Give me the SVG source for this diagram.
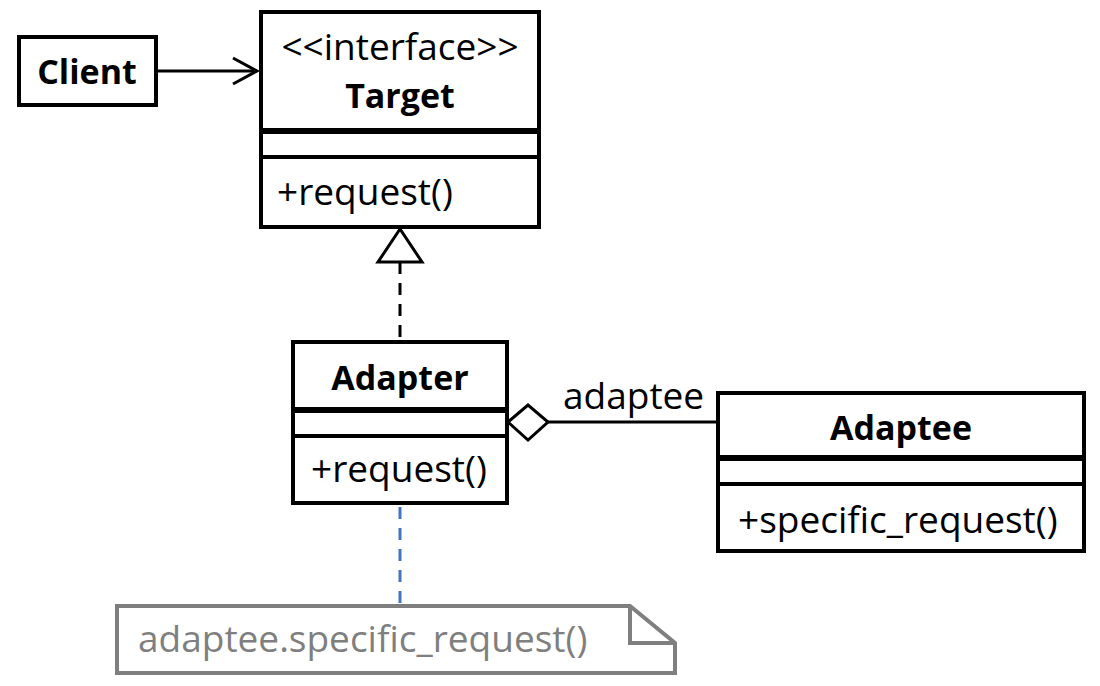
<svg xmlns="http://www.w3.org/2000/svg" width="1100" height="686" viewBox="0 0 1100 686">
<style>
.box{fill:#fff;stroke:#000;stroke-width:4}
.sep{stroke:#000;stroke-width:4}
.sep2{stroke:#000;stroke-width:6}
.b{font-family:"Open Sans","Noto Sans",sans-serif;font-weight:bold;font-size:34px;fill:#000}
.r{font-family:"Open Sans","Noto Sans",sans-serif;font-size:37px;fill:#000}
.n{font-family:"Open Sans","Noto Sans",sans-serif;font-size:37px;fill:#7f7f7f}
.ln{fill:none;stroke:#000;stroke-width:3}
</style>
<rect width="1100" height="686" fill="#fff"/>
<g id="connectors">
  <line class="ln" x1="157" y1="71" x2="257" y2="71"/>
  <polyline class="ln" points="233,58 257,71 233,84"/>
  <line class="ln" x1="400" y1="262" x2="400" y2="340" stroke-dasharray="12,9"/>
  <polygon points="400,229 378,262 422,262" fill="#fff" stroke="#000" stroke-width="3"/>
  <line class="ln" x1="548" y1="422" x2="718" y2="422"/>
  <polygon points="508,422 528,405 548,422 528,440" fill="#fff" stroke="#000" stroke-width="3"/>
  <text class="r" x="563" y="409">adaptee</text>
  <line x1="400" y1="507" x2="400" y2="604" stroke="#4472C4" stroke-width="3" stroke-dasharray="12,9"/>
</g>
<g id="client">
  <rect class="box" x="19" y="37" width="137" height="68"/>
  <text class="b" x="87" y="84" text-anchor="middle">Client</text>
</g>
<g id="target">
  <rect class="box" x="261" y="12" width="278" height="215"/>
  <line class="sep2" x1="261" y1="131" x2="539" y2="131"/>
  <line class="sep" x1="261" y1="157" x2="539" y2="157"/>
  <text class="r" x="400" y="60" text-anchor="middle">&lt;&lt;interface&gt;&gt;</text>
  <text class="b" x="400" y="108" text-anchor="middle">Target</text>
  <text class="r" x="277" y="205">+request()</text>
</g>
<g id="adapter">
  <rect class="box" x="293" y="342" width="214" height="161"/>
  <line class="sep2" x1="293" y1="410" x2="507" y2="410"/>
  <line class="sep" x1="293" y1="436" x2="507" y2="436"/>
  <text class="b" x="400" y="390" text-anchor="middle">Adapter</text>
  <text class="r" x="311" y="482">+request()</text>
</g>
<g id="adaptee">
  <rect class="box" x="718" y="393" width="366" height="158"/>
  <line class="sep2" x1="718" y1="458" x2="1084" y2="458"/>
  <line class="sep" x1="718" y1="484" x2="1084" y2="484"/>
  <text class="b" x="901" y="440" text-anchor="middle">Adaptee</text>
  <text class="r" x="738" y="533">+specific_request()</text>
</g>
<g id="note">
  <path d="M117,606 H630 L675,643 V673 H117 Z" fill="#fff" stroke="#7f7f7f" stroke-width="4"/>
  <polyline points="630,606 630,643 675,643" fill="none" stroke="#7f7f7f" stroke-width="4"/>
  <text class="n" x="138" y="652">adaptee.specific_request()</text>
</g>
</svg>
